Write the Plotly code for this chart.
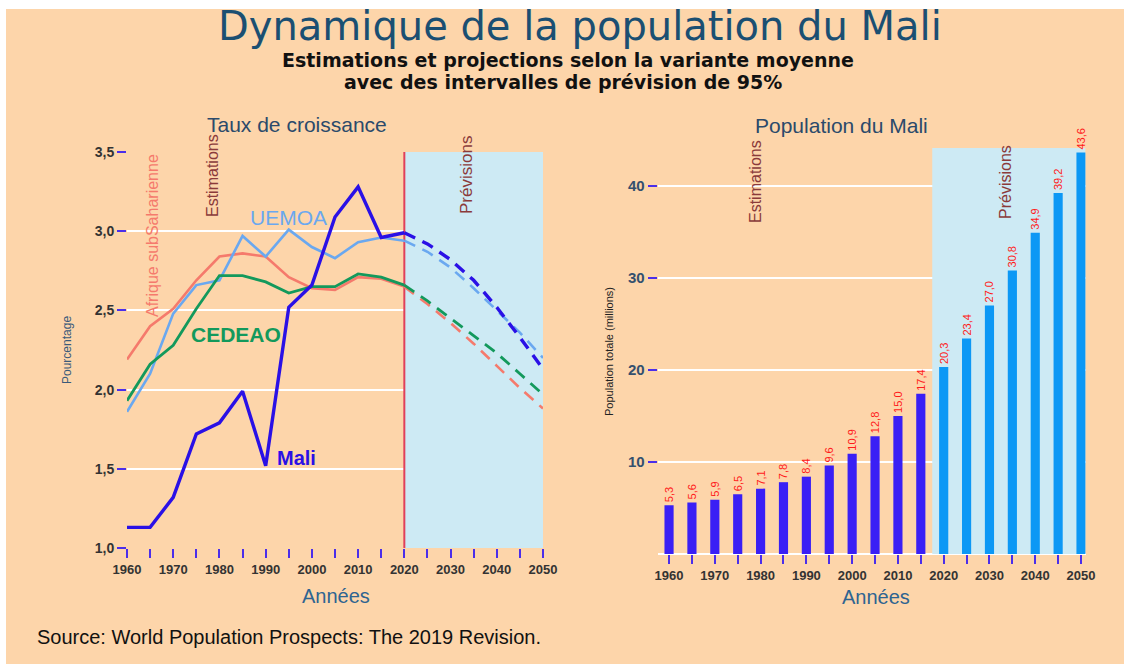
import plotly.graph_objects as go

# ---------------- data ----------------
years_est = [1960, 1965, 1970, 1975, 1980, 1985, 1990, 1995, 2000, 2005, 2010, 2015, 2020]
years_proj = [2020, 2025, 2030, 2035, 2040, 2045, 2050]

mali_est = [1.13, 1.13, 1.32, 1.72, 1.79, 1.99, 1.52, 2.52, 2.66, 3.09, 3.28, 2.96, 2.99]
mali_proj = [2.99, 2.92, 2.82, 2.69, 2.52, 2.33, 2.13]
uemoa_est = [1.86, 2.10, 2.48, 2.66, 2.69, 2.97, 2.84, 3.01, 2.90, 2.83, 2.93, 2.96, 2.94]
uemoa_proj = [2.94, 2.87, 2.77, 2.64, 2.50, 2.36, 2.20]
ssa_est = [2.19, 2.40, 2.51, 2.69, 2.84, 2.86, 2.84, 2.71, 2.64, 2.63, 2.71, 2.70, 2.65]
ssa_proj = [2.65, 2.54, 2.42, 2.29, 2.15, 2.01, 1.88]
cedeao_est = [1.93, 2.16, 2.28, 2.51, 2.72, 2.72, 2.68, 2.61, 2.65, 2.65, 2.73, 2.71, 2.66]
cedeao_proj = [2.66, 2.56, 2.45, 2.34, 2.23, 2.10, 1.97]

pop_years_est = [1960, 1965, 1970, 1975, 1980, 1985, 1990, 1995, 2000, 2005, 2010, 2015]
pop_est = [5.3, 5.6, 5.9, 6.5, 7.1, 7.8, 8.4, 9.6, 10.9, 12.8, 15.0, 17.4]
pop_years_proj = [2020, 2025, 2030, 2035, 2040, 2045, 2050]
pop_proj = [20.3, 23.4, 27.0, 30.8, 34.9, 39.2, 43.6]

x_tickvals = list(range(1960, 2051, 5))
x_ticktext = [str(y) if y % 10 == 0 else "" for y in x_tickvals]
left_yticks = [1.0, 1.5, 2.0, 2.5, 3.0, 3.5]
right_yticks = [10, 20, 30, 40]

# ---------------- style ----------------
W, H = 1124, 664
PEACH = "#FDD5AA"
SHADE = "#CDEAF4"
FONT = "Liberation Sans, Arial, sans-serif"
WIDE = "DejaVu Sans, Liberation Sans, sans-serif"
C_MALI = "#2A10E6"
C_UEMOA = "#6AA8F0"
C_SSA = "#F57A6C"
C_CEDEAO = "#13995C"
C_BAR_EST = "#3A1FF5"
C_BAR_PROJ = "#0C98F5"
TICKC = "#4B2EEA"


def px(x):
    return x / W


def py(y):
    return 1 - y / H


fig = go.Figure()

# left chart lines
for est, proj, col, w in [
    (ssa_est, ssa_proj, C_SSA, 2.6),
    (uemoa_est, uemoa_proj, C_UEMOA, 2.6),
    (cedeao_est, cedeao_proj, C_CEDEAO, 2.8),
    (mali_est, mali_proj, C_MALI, 3.4),
]:
    fig.add_trace(go.Scatter(x=years_est, y=est, mode="lines", line=dict(color=col, width=w),
                             xaxis="x", yaxis="y", showlegend=False, hoverinfo="skip"))
    fig.add_trace(go.Scatter(x=years_proj, y=proj, mode="lines",
                             line=dict(color=col, width=w, dash="12px,8px"),
                             xaxis="x", yaxis="y", showlegend=False, hoverinfo="skip"))

# right chart bars
for xs, ys, col in [(pop_years_est, pop_est, C_BAR_EST), (pop_years_proj, pop_proj, C_BAR_PROJ)]:
    fig.add_trace(go.Bar(x=xs, y=ys, marker=dict(color=col, line=dict(width=0)),
                         width=2.0, texttemplate="%{y:.1f}", textposition="outside", textangle=-90,
                         constraintext="none",
                         textfont=dict(color="#FF1A1A", size=11, family=FONT), cliponaxis=False,
                         xaxis="x2", yaxis="y2", showlegend=False, hoverinfo="skip"))

tickfont_x = dict(family=FONT, size=13, color="#333333", weight="bold")

fig.update_layout(
    template="none",
    width=W, height=H,
    margin=dict(l=0, r=0, t=0, b=0, pad=0, autoexpand=False),
    paper_bgcolor=PEACH, plot_bgcolor=PEACH,
    separators=", ",
    barmode="overlay",
    font=dict(family=FONT),
    xaxis=dict(domain=[px(127), px(543)], range=[1960, 2050], tickvals=x_tickvals, ticktext=x_ticktext,
               ticks="outside", ticklen=9, tickwidth=2, tickcolor=TICKC, showgrid=False, zeroline=False,
               showline=False, tickfont=tickfont_x, anchor="y", automargin=False),
    yaxis=dict(domain=[py(548), py(152)], range=[1.0, 3.5], tickvals=left_yticks, tickformat=".1f",
               ticks="outside", ticklen=9, tickwidth=2, tickcolor=TICKC, showgrid=True,
               gridcolor="#FFFFFF", gridwidth=1.5, zeroline=False, showline=False,
               tickfont=dict(family=FONT, size=14, color="#333333", weight="bold"), anchor="x",
               automargin=False),
    xaxis2=dict(domain=[px(657.6), px(1085.6)], range=[1957.5, 2051], tickvals=x_tickvals,
                ticktext=x_ticktext, ticks="outside", ticklen=9, tickwidth=2, tickcolor=TICKC,
                showgrid=False, zeroline=False, showline=False, tickfont=tickfont_x, anchor="y2",
                automargin=False),
    yaxis2=dict(domain=[py(554), py(148)], range=[0, 44.1], tickvals=right_yticks,
                ticks="outside", ticklen=9, tickwidth=2, tickcolor=TICKC, showgrid=True,
                gridcolor="#FFFFFF", gridwidth=1.5, zeroline=True, zerolinecolor="#FFFFFF",
                zerolinewidth=2, showline=False,
                tickfont=dict(family=FONT, size=15, color="#34506E", weight="bold"), anchor="x2",
                automargin=False),
)

shapes = [
    # projection shading
    dict(type="rect", xref="x", yref="y", x0=2020, x1=2050, y0=1.0, y1=3.5,
         fillcolor=SHADE, line=dict(width=0), layer="between"),
    dict(type="line", xref="x", yref="y", x0=2020, x1=2020, y0=1.0, y1=3.5,
         line=dict(color="#E0405A", width=2), layer="between"),
    dict(type="rect", xref="x2", yref="y2", x0=2017.5, x1=2051, y0=0, y1=44.1,
         fillcolor=SHADE, line=dict(width=0), layer="between"),
    # white border of the original picture
    dict(type="rect", xref="paper", yref="paper", x0=0, x1=1, y0=py(9), y1=1,
         fillcolor="#FFFFFF", line=dict(width=0), layer="above"),
    dict(type="rect", xref="paper", yref="paper", x0=0, x1=px(6), y0=0, y1=1,
         fillcolor="#FFFFFF", line=dict(width=0), layer="above"),
]
fig.update_layout(shapes=shapes)


def ann(text, x, y, size, color, angle=0, bold=False, xanchor="center", family=FONT):
    return dict(text=text, x=px(x), y=py(y), xref="paper", yref="paper", showarrow=False,
                xanchor=xanchor, yanchor="middle", textangle=angle,
                font=dict(family=family, size=size, color=color, weight="bold" if bold else "normal"))


annotations = [
    ann("Dynamique de la population du Mali", 580, 26, 40, "#1B4F72", family=WIDE),
    ann("Estimations et projections selon la variante moyenne", 568, 60, 19, "#111111",
        bold=True, family=WIDE),
    ann("avec des intervalles de prévision de 95%", 563, 82, 19, "#111111", bold=True, family=WIDE),
    ann("Taux de croissance", 297, 124, 21, "#2B4A6B"),
    ann("Population du Mali", 841, 125, 21, "#2B4A6B"),
    ann("Pourcentage", 67, 350, 12, "#3A5A7A", angle=-90),
    ann("Population totale (millions)", 609, 351, 11, "#222222", angle=-90),
    ann("Années", 336, 596, 20, "#2E6491"),
    ann("Années", 876, 597, 20, "#2E6491"),
    ann("Source: World Population Prospects: The 2019 Revision.", 35, 637, 20, "#111111", xanchor="left"),
    ann("Afrique subSaharienne", 152, 236, 16, C_SSA, angle=-90),
    ann("Estimations", 213, 176, 16, "#8B3A3A", angle=-90),
    ann("Prévisions", 467, 175, 17, "#8B3A3A", angle=-90),
    ann("Estimations", 755, 182, 16, "#8B3A3A", angle=-90),
    ann("Prévisions", 1005, 182, 16, "#8B3A3A", angle=-90),
    ann("UEMOA", 288, 217, 21, C_UEMOA),
    ann("CEDEAO", 236, 335, 21, C_CEDEAO, bold=True),
    ann("Mali", 296, 458, 20, C_MALI, bold=True),
]
fig.update_layout(annotations=annotations)

fig.write_html(
    "out.html",
    config={"displayModeBar": False},
    post_script="document.body.style.margin='0';document.body.style.padding='0';",
)
